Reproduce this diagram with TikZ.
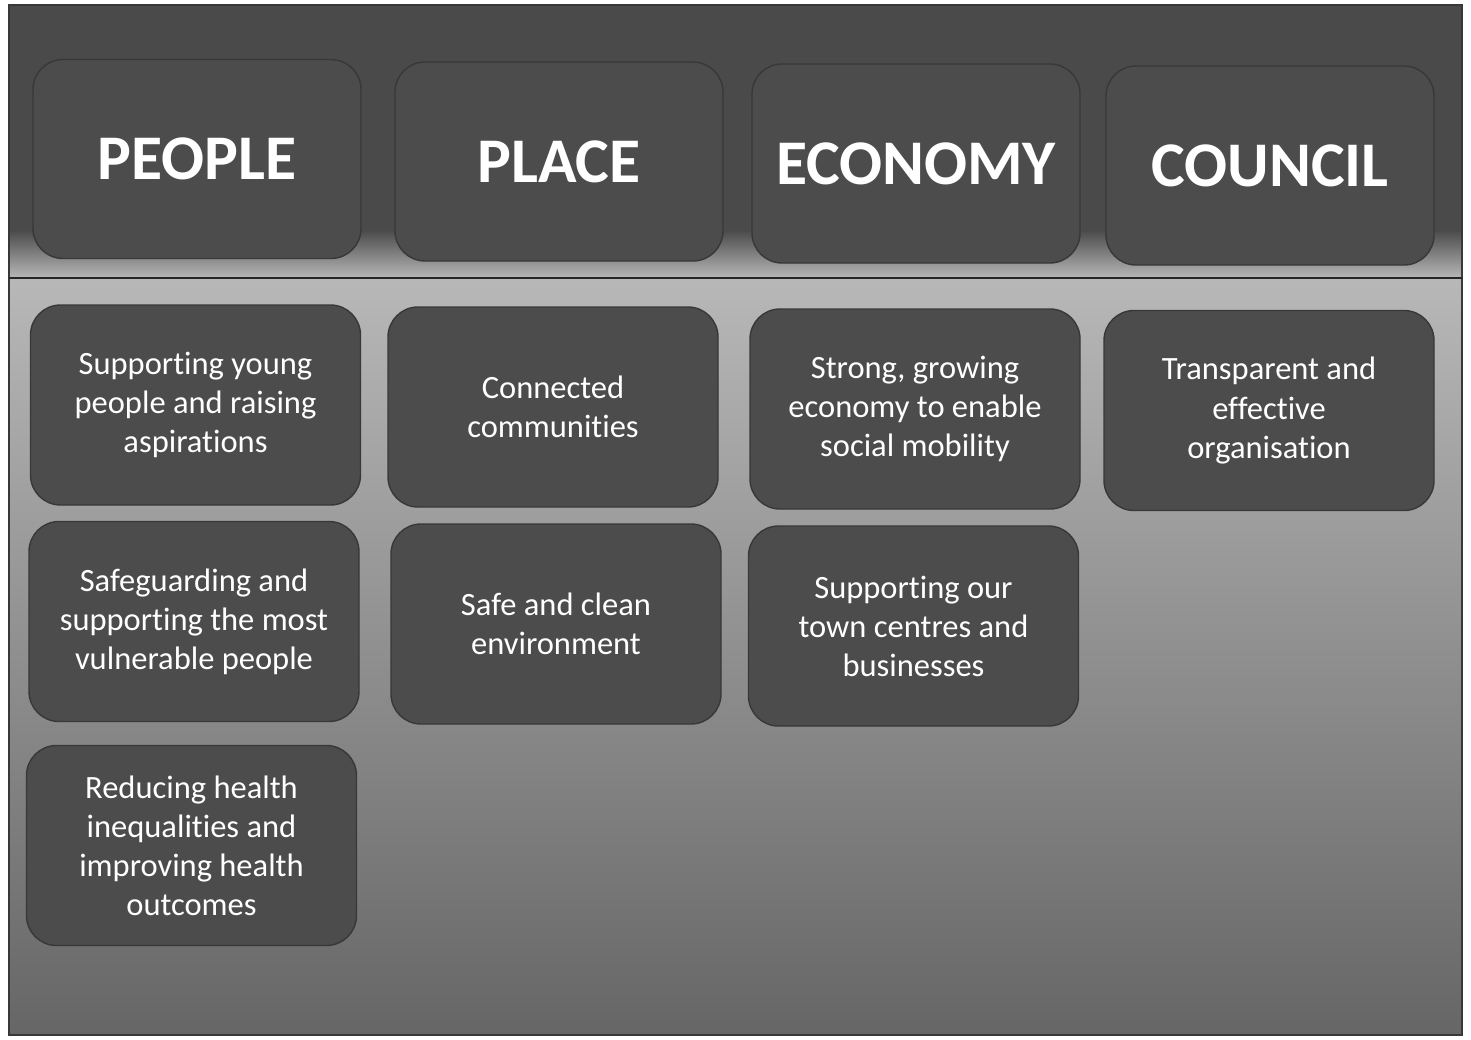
\documentclass[tikz,border=0pt]{standalone}
\usepackage{fontspec}
\setmainfont{Carlito}[Ligatures=NoCommon]
\usetikzlibrary{positioning}
\definecolor{bandgray}{gray}{0.29}
\definecolor{lightgray}{gray}{0.72}
\definecolor{lowgray}{gray}{0.40}
\definecolor{boxgray}{gray}{0.30}
\definecolor{edgegray}{gray}{0.22}

\tikzset{
  themebox/.style={rounded corners=0.6cm, fill=boxgray, draw=edgegray, line width=0.8pt,
    minimum width=6.56cm, minimum height=3.98cm, text=white, align=center},
  headbox/.style={themebox, font=\fontsize{36.2}{40}\selectfont\bfseries},
  aimbox/.style={themebox, minimum width=6.6cm, minimum height=4cm,
    font=\fontsize{18.5}{22.2}\selectfont}
}

\begin{document}
\begin{tikzpicture}
\useasboundingbox (0,0) rectangle (29.42,-20.78);
%background
  \fill[white] (0,0) rectangle (29.42,-20.78);
  \fill[bandgray] (0.18,-0.1) rectangle (29.24,-4.6);
  \shade[top color=bandgray, bottom color=lightgray] (0.18,-4.6) rectangle (29.24,-5.56);
  \shade[top color=lightgray, bottom color=lowgray] (0.18,-5.56) rectangle (29.24,-20.7);
  \draw[edgegray, line width=0.6pt] (0.18,-0.1) rectangle (29.24,-20.7);
  \draw[black!85, line width=1.2pt] (0.18,-5.56) -- (29.24,-5.56);
%themes
  \node[headbox] (people)  at (3.94,-3.18)  {PEOPLE};
  \node[headbox] (place)   at (11.18,-3.23) {PLACE};
  \node[headbox] (economy) at (18.32,-3.27) {ECONOMY};
  \node[headbox] (council) at (25.40,-3.31) {COUNCIL};
%people aims
  \node[aimbox] (young)    at (3.91,-8.10)  {Supporting young\\people and raising\\aspirations};
  \node[aimbox] (vulnerable) at (3.88,-12.43) {Safeguarding and\\supporting the most\\vulnerable people};
  \node[aimbox] (health)   at (3.83,-16.91) {Reducing health\\inequalities and\\improving health\\outcomes};
%place aims
  \node[aimbox] (connected) at (11.06,-8.14) {Connected\\communities};
  \node[aimbox] (clean)    at (11.12,-12.48) {Safe and clean\\environment};
%economy aims
  \node[aimbox] (growth)   at (18.30,-8.18) {Strong, growing\\economy to enable\\social mobility};
  \node[aimbox] (towns)    at (18.27,-12.52) {Supporting our\\town centres and\\businesses};
%council aims
  \node[aimbox] (transparent) at (25.38,-8.21) {Transparent and\\effective\\organisation};
\end{tikzpicture}
\end{document}
